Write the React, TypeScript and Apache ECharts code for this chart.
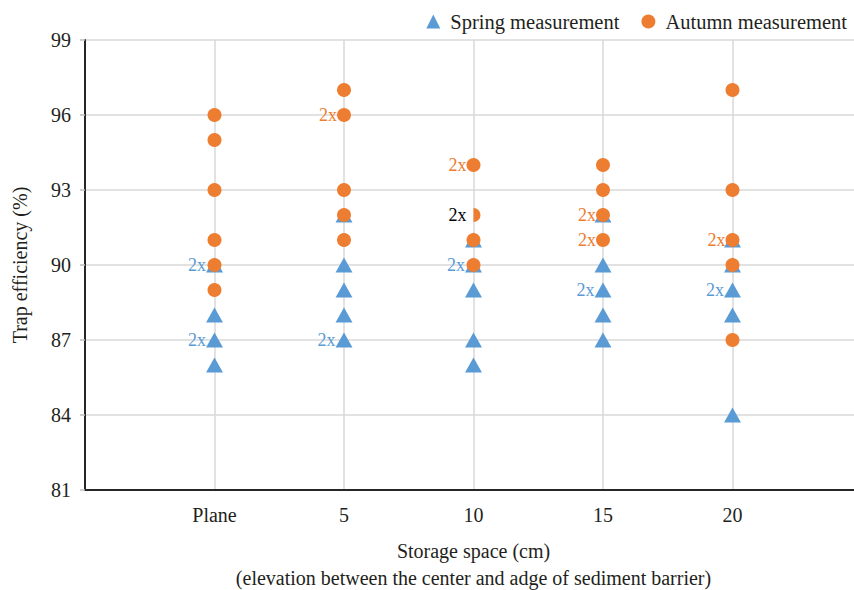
import React, { useEffect, useRef } from "react";
import * as echarts from "echarts";

const categories = ["Plane", "5", "10", "15", "20"];
const yTicks = [81, 84, 87, 90, 93, 96, 99];

const springValues = [
  [90, 88, 87, 86],
  [92, 90, 89, 88, 87],
  [91, 90, 89, 87, 86],
  [92, 90, 89, 88, 87],
  [91, 90, 89, 88, 84],
];
const springDoubles = [[90, 87], [87], [90], [89], [89]];

const autumnValues = [
  [96, 95, 93, 91, 90, 89],
  [97, 96, 93, 92, 91],
  [94, 92, 91, 90],
  [94, 93, 92, 91],
  [97, 93, 91, 90, 87],
];
const autumnDoubles = [[], [96], [94], [92, 91], [91]];
// point whose "2x" note is printed in black (category index, value)
const blackDouble = [2, 92];
// point drawn as a half disc in the original (category index, value)
const halfPoint = [2, 92];

const BLUE = "#5B9BD5";
const ORANGE = "#ED7D31";
const FONT = "Liberation Serif";
const TEXT = "#231f20";

function buildData(values: number[][], doubles: number[][], color: string, isAutumn: boolean) {
  const out: any[] = [];
  values.forEach((vals, i) => {
    vals.forEach((v) => {
      const item: any = { value: [i + 1, v] };
      const isBlack = isAutumn && blackDouble[0] === i && blackDouble[1] === v;
      if (doubles[i].includes(v) || isBlack) {
        item.label = {
          show: true,
          formatter: "2x",
          position: "left",
          distance: isBlack ? 7 : 0,
          color: isBlack ? "#000" : color,
          fontFamily: FONT,
          fontSize: 18,
        };
      }
      if (isAutumn && halfPoint[0] === i && halfPoint[1] === v) {
        item.symbol = "path://M0,0 A10,10 0 0 1 0,20 Z";
        item.symbolKeepAspect = true;
        item.symbolOffset = [3.5, 0];
      }
      out.push(item);
    });
  });
  return out;
}

export default function App() {
  const ref = useRef<HTMLDivElement>(null);
  useEffect(() => {
    if (!ref.current) return;
    const chart = echarts.init(ref.current, undefined, { renderer: "svg" });
    chart.setOption({
      animation: false,
      backgroundColor: "#fff",
      legend: {
        right: 2,
        top: 6,
        itemWidth: 14,
        itemHeight: 14,
        itemGap: 22,
        textStyle: { fontFamily: FONT, fontSize: 20.5, color: TEXT, padding: [0, 0, 0, 5] },
        data: [
          { name: "Spring measurement", icon: "triangle", itemStyle: { color: BLUE } },
          { name: "Autumn measurement", icon: "circle", itemStyle: { color: ORANGE } },
        ],
      },
      grid: {
        left: 85,
        right: -8,
        top: 40,
        bottom: 100,
        containLabel: false,
        outerBoundsMode: "none",
      },
      xAxis: {
        type: "value",
        min: 0,
        max: 6,
        interval: 1,
        name: "Storage space (cm)\n(elevation between the center and adge of sediment barrier)",
        nameLocation: "middle",
        nameGap: 47,
        nameTextStyle: { fontFamily: FONT, fontSize: 20, color: TEXT, lineHeight: 27 },
        axisLine: { show: true, onZero: false, lineStyle: { color: "#262626", width: 2 } },
        axisTick: { show: false },
        axisLabel: {
          fontFamily: FONT,
          fontSize: 20,
          color: TEXT,
          margin: 15,
          formatter: (v: number) => (v >= 1 && v <= categories.length ? categories[v - 1] : ""),
        },
        splitLine: { show: true, lineStyle: { color: "#d9d9d9", width: 1.5 } },
      },
      yAxis: {
        type: "value",
        min: yTicks[0],
        max: yTicks[yTicks.length - 1],
        interval: 3,
        name: "Trap efficiency (%)",
        nameLocation: "middle",
        nameGap: 55,
        nameTextStyle: { fontFamily: FONT, fontSize: 20, color: TEXT },
        axisLine: { show: true, onZero: false, lineStyle: { color: "#262626", width: 2 } },
        axisTick: { show: true, length: 5, lineStyle: { color: "#bfbfbf", width: 1.5 } },
        axisLabel: { fontFamily: FONT, fontSize: 20, color: TEXT, margin: 14 },
        splitLine: { show: true, lineStyle: { color: "#d9d9d9", width: 1.5 } },
      },
      series: [
        {
          name: "Spring measurement",
          type: "scatter",
          symbol: "triangle",
          symbolSize: [17, 15],
          itemStyle: { color: BLUE, opacity: 1 },
          data: buildData(springValues, springDoubles, BLUE, false),
          z: 2,
        },
        {
          name: "Autumn measurement",
          type: "scatter",
          symbol: "circle",
          symbolSize: 14,
          itemStyle: { color: ORANGE, opacity: 1 },
          data: buildData(autumnValues, autumnDoubles, ORANGE, true),
          z: 3,
        },
      ],
    });
    return () => chart.dispose();
  }, []);
  return (
    <div
      ref={ref}
      style={{ position: "absolute", left: 0, top: 0, width: 854, height: 590, background: "#fff" }}
    />
  );
}
